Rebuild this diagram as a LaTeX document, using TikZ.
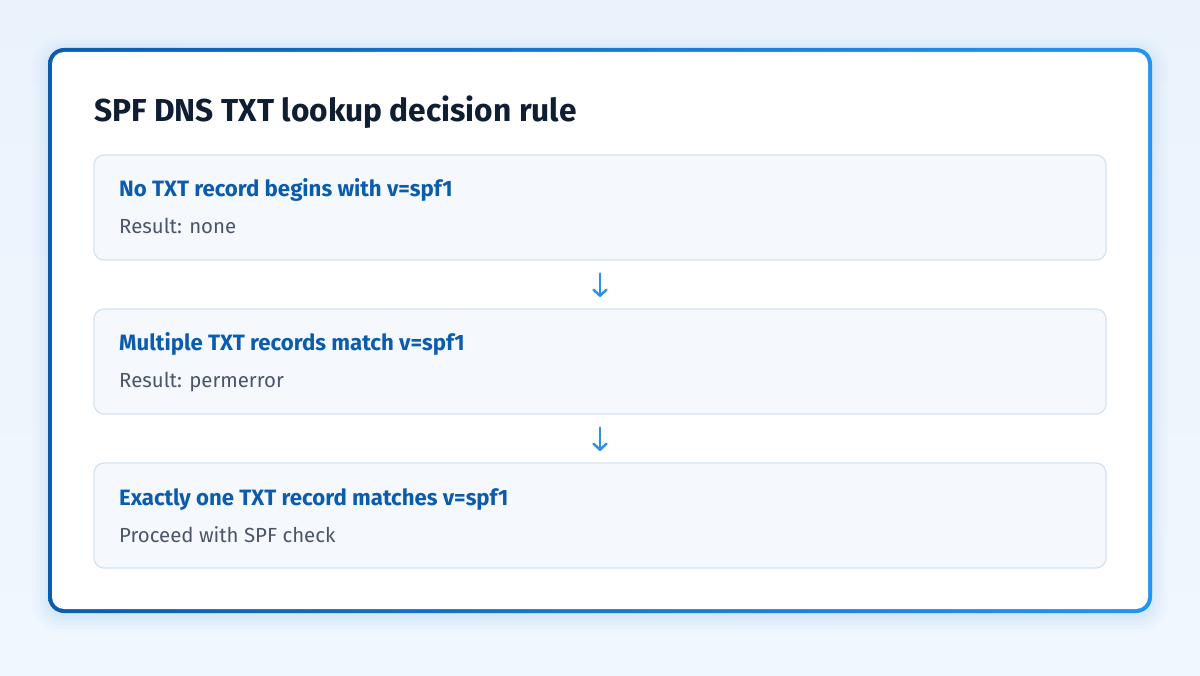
\documentclass[tikz,border=0pt]{standalone}
\usepackage{fontspec}
\setmainfont{Fira Sans}
\usetikzlibrary{arrows.meta}
\definecolor{bgA}{HTML}{EAF3FC}
\definecolor{bgB}{HTML}{F1F7FE}
\definecolor{frameA}{HTML}{0B5CAD}
\definecolor{frameB}{HTML}{2394F5}
\definecolor{boxfill}{HTML}{F5F9FE}
\definecolor{boxline}{HTML}{D3E2F2}
\definecolor{titlecol}{HTML}{0F1E33}
\definecolor{headcol}{HTML}{0B5CAD}
\definecolor{subcol}{HTML}{4A5568}
\definecolor{arrowcol}{HTML}{2E8FE8}
\definecolor{glow}{HTML}{9CC6F2}
\tikzset{
  stepbox/.style={rectangle, rounded corners=10pt, fill=boxfill, draw=boxline,
    line width=1.2pt, minimum width=1012pt, minimum height=105pt, inner sep=0pt},
  headtxt/.style={anchor=base west, inner sep=0pt, text=headcol, font=\fontsize{22.2}{26}\selectfont\bfseries},
  subtxt/.style={anchor=base west, inner sep=0pt, text=subcol, font=\fontsize{20.4}{24}\selectfont},
  flowarrow/.style={draw=arrowcol, line width=2.5pt, line cap=round,
    -{Straight Barb[length=6pt,width=13pt,line cap=round]}, shorten <=13pt, shorten >=11pt}
}
\begin{document}
\begin{tikzpicture}[x=1pt,y=-1pt]
\useasboundingbox (0,0) rectangle (1200,676);
% background
\shade[top color=bgA, bottom color=bgB] (0,0) rectangle (1200,676);
\fill[bgB] (0,662) rectangle (1200,676);
% glow
\foreach \d/\o in {18/0.04,14/0.05,10/0.06,6/0.07,3/0.08}{
  \fill[glow, opacity=\o, rounded corners=14pt+\d pt] (50-\d,50-\d+4) rectangle (1150+\d,611+\d+4);
}
% frame
\shade[left color=frameA, right color=frameB, rounded corners=16pt] (48,48) rectangle (1152,613);
\fill[white, rounded corners=12pt] (52,52) rectangle (1148,609);
% title
\node[anchor=base west, inner sep=0pt, text=titlecol, font=\fontsize{31.7}{36}\selectfont\bfseries] (title) at (94,122) {SPF DNS TXT lookup decision rule};
% boxes
\node[stepbox] (b1) at (600,207.5) {};
\node[stepbox] (b2) at (600,361.5) {};
\node[stepbox] (b3) at (600,515.5) {};
\node[headtxt] (h1) at (119,197) {No TXT record begins with v=spf1};
\node[subtxt] (s1) at (119,234) {Result: none};
\node[headtxt] (h2) at (119,351) {Multiple TXT records match v=spf1};
\node[subtxt] (s2) at (119,388) {Result: permerror};
\node[headtxt] (h3) at (119,505) {Exactly one TXT record matches v=spf1};
\node[subtxt] (s3) at (119,542) {Proceed with SPF check};
% arrows
\draw[flowarrow] (b1) -- (b2);
\draw[flowarrow] (b2) -- (b3);
\end{tikzpicture}
\end{document}
